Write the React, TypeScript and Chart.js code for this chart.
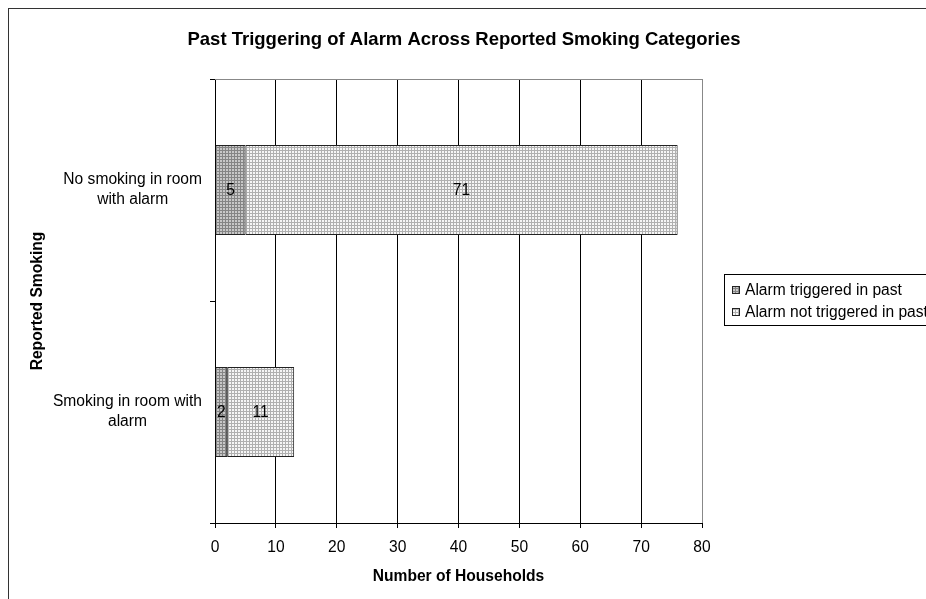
import React, { useEffect, useRef } from "react";
import { Chart, registerables } from "chart.js";

Chart.register(...registerables);

const categories: string[][] = [
  ["No smoking in room", "with alarm"],
  ["Smoking in room with", "alarm"],
];
const triggered: number[] = [5, 2];
const notTriggered: number[] = [71, 11];
const seriesNames: string[] = ["Alarm triggered in past", "Alarm not triggered in past"];
const xTicks: number[] = [0, 10, 20, 30, 40, 50, 60, 70, 80];

const chartTitle = "Past Triggering of Alarm Across Reported Smoking Categories";
const xTitle = "Number of Households";
const yTitle = "Reported Smoking";

const FONT = "Arial, 'Liberation Sans', sans-serif";

// fine crosshatch fill used for the bar segments
function makeGridPattern(bg: string, line: string): CanvasPattern | string {
  const tile = document.createElement("canvas");
  tile.width = 3;
  tile.height = 3;
  const c = tile.getContext("2d");
  if (!c) return bg;
  c.fillStyle = bg;
  c.fillRect(0, 0, 3, 3);
  c.fillStyle = line;
  c.fillRect(0, 0, 3, 1);
  c.fillRect(0, 0, 1, 3);
  const p = c.createPattern(tile, "repeat");
  return p || bg;
}

const decorPlugin = {
  id: "decor",
  afterDraw(chart: any) {
    const ctx = chart.ctx as CanvasRenderingContext2D;
    const area = chart.chartArea;
    ctx.save();
    // outer frame
    ctx.strokeStyle = "#333";
    ctx.lineWidth = 1;
    ctx.strokeRect(8.5, 8.5, 940, 640);

    // plot area top edge
    ctx.strokeStyle = "#888";
    ctx.beginPath();
    ctx.moveTo(area.left, Math.round(area.top) + 0.5);
    ctx.lineTo(Math.round(area.right) + 0.5, Math.round(area.top) + 0.5);
    ctx.stroke();

    // title
    ctx.fillStyle = "#000";
    ctx.font = `bold 18.5px ${FONT}`;
    ctx.textAlign = "center";
    ctx.textBaseline = "middle";
    ctx.fillText(chartTitle, 464, 40);

    // category labels: each block right-aligned to the axis, its lines centred
    const yScale = chart.scales.y;
    ctx.font = `15.6px ${FONT}`;
    ctx.textAlign = "center";
    const rightEdge = yScale.right - 13;
    (chart.data.labels as string[][]).forEach((lines, i) => {
      const cy = yScale.getPixelForTick(i);
      const w = Math.max(...lines.map((l) => ctx.measureText(l).width));
      const cx = rightEdge - w / 2;
      const lh = 20;
      const y0 = cy - ((lines.length - 1) * lh) / 2;
      lines.forEach((l, k) => ctx.fillText(l, cx, y0 + k * lh));
    });

    // legend
    ctx.strokeStyle = "#000";
    ctx.strokeRect(724.5, 274.5, 240, 51);
    ctx.textAlign = "left";
    const rows = [290, 312];
    chart.data.datasets.forEach((ds: any, i: number) => {
      const y = rows[i];
      ctx.fillStyle = ds.backgroundColor;
      ctx.fillRect(732, y - 4, 8, 8);
      ctx.strokeStyle = "#222";
      ctx.strokeRect(732.5, y - 3.5, 7, 7);
      ctx.fillStyle = "#000";
      ctx.fillText(ds.label, 745, y + 1);
    });
    ctx.restore();
  },
  afterDatasetsDraw(chart: any) {
    const ctx = chart.ctx as CanvasRenderingContext2D;
    ctx.save();
    ctx.fillStyle = "#000";
    ctx.font = `15.6px ${FONT}`;
    ctx.textAlign = "center";
    ctx.textBaseline = "middle";
    chart.data.datasets.forEach((ds: any, di: number) => {
      const meta = chart.getDatasetMeta(di);
      meta.data.forEach((el: any, i: number) => {
        const p = el.getCenterPoint();
        ctx.fillText(String(ds.data[i]), p.x, p.y + 1);
      });
    });
    ctx.restore();
  },
};

export default function App() {
  const ref = useRef<HTMLCanvasElement | null>(null);

  useEffect(() => {
    if (!ref.current) return;
    const darkFill = makeGridPattern("#c8c8c8", "#858585");
    const lightFill = makeGridPattern("#f6f6f6", "#b0b0b0");
    const chart = new Chart(ref.current, {
      type: "bar",
      data: {
        labels: categories,
        datasets: [
          {
            label: seriesNames[0],
            data: triggered,
            backgroundColor: darkFill as any,
            borderColor: "#222",
            borderWidth: 1,
            borderSkipped: false,
            barPercentage: 0.405,
            categoryPercentage: 1,
          },
          {
            label: seriesNames[1],
            data: notTriggered,
            backgroundColor: lightFill as any,
            borderColor: "#222",
            borderWidth: 1,
            borderSkipped: false,
            barPercentage: 0.405,
            categoryPercentage: 1,
          },
        ],
      },
      options: {
        indexAxis: "y",
        responsive: false,
        animation: false,
        devicePixelRatio: 1,
        layout: { padding: { top: 79, right: 224, bottom: 0, left: 0 } },
        plugins: {
          legend: { display: false },
          title: { display: false },
          tooltip: { enabled: false },
        },
        scales: {
          x: {
            stacked: true,
            min: 0,
            max: 80,
            afterBuildTicks: (scale: any) => {
              scale.ticks = xTicks.map((v) => ({ value: v }));
            },
            afterFit: (scale: any) => {
              scale.height = 76;
            },
            grid: {
              color: (c: any) => (c.tick && c.tick.value === 80 ? "#888" : "#000"),
              tickColor: "#000",
              tickLength: 5,
              lineWidth: 1,
            },
            border: { color: "#000", width: 1 },
            ticks: {
              color: "#000",
              padding: 10,
              font: { family: FONT, size: 15.6 },
            },
            title: {
              display: true,
              text: xTitle,
              color: "#000",
              font: { family: FONT, size: 15.6, weight: "bold" },
              padding: { top: 0, bottom: 13 },
            },
          },
          y: {
            stacked: true,
            afterFit: (scale: any) => {
              scale.width = 215;
            },
            grid: {
              offset: true,
              drawOnChartArea: false,
              tickColor: "#000",
              tickLength: 5,
            },
            border: { color: "#000", width: 1 },
            ticks: { display: false },
            title: {
              display: true,
              text: yTitle,
              color: "#000",
              font: { family: FONT, size: 15.6, weight: "bold" },
              padding: { top: 28, bottom: 0 },
            },
          },
        },
      },
      plugins: [decorPlugin],
    } as any);
    return () => chart.destroy();
  }, []);

  return (
    <div style={{ position: "absolute", left: 0, top: 0, width: 926, height: 599, overflow: "hidden", background: "#fff" }}>
      <canvas ref={ref} width={926} height={599} style={{ display: "block" }} />
    </div>
  );
}
